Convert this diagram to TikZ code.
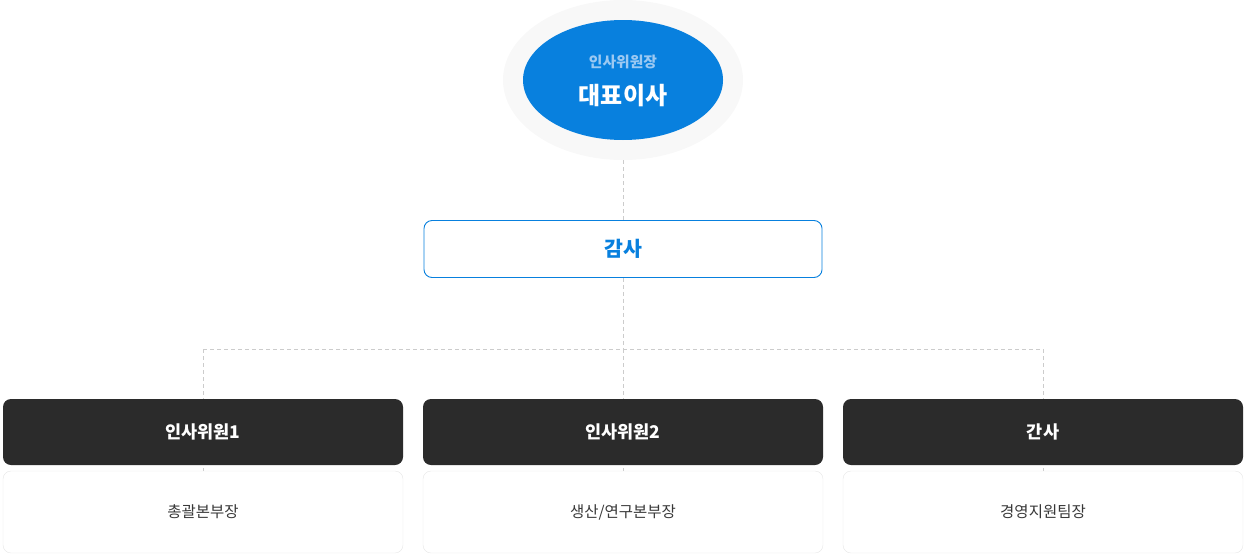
\documentclass[tikz,border=0pt]{standalone}
\usepackage{fontspec}
\setmainfont{Noto Sans CJK KR}
\usetikzlibrary{backgrounds,shapes.geometric}
\definecolor{chartblue}{HTML}{0880DE}
\definecolor{softblue}{HTML}{9CC9F2}
\definecolor{halogray}{HTML}{F8F8F8}
\definecolor{darkbox}{HTML}{2B2B2B}
\definecolor{subtext}{HTML}{383838}
\definecolor{subline}{HTML}{E6E6E6}
\definecolor{linkgray}{HTML}{CCCCCC}
\begin{document}
\begin{tikzpicture}[x=1pt,y=-1pt,
    link/.style={draw=linkgray,line width=0.8pt,dash pattern=on 4pt off 3pt},
    member/.style={fill=darkbox,rounded corners=8pt,minimum width=400pt,minimum height=66pt,
      text=white,font=\bfseries\fontsize{17.5}{17.5}\selectfont},
    duty/.style={draw=subline,fill=white,rounded corners=8pt,minimum width=400pt,minimum height=82pt,
      text=subtext,font=\fontsize{15.5}{15.5}\selectfont}]
  \useasboundingbox (0,0) rectangle (1246,557);
  \node[ellipse,fill=halogray,minimum width=240pt,minimum height=160pt,inner sep=0pt] (halo) at (623,80) {};
  \node[ellipse,fill=chartblue,minimum width=200pt,minimum height=120pt,inner sep=0pt] (ceo) at (623,80) {};
  \node[text=softblue,font=\bfseries\fontsize{14.8}{14.8}\selectfont] (ceotitle) at (623,62) {인사위원장};
  \node[text=white,font=\bfseries\fontsize{24}{24}\selectfont] (ceoname) at (623,96) {대표이사};
  \node[draw=chartblue,line width=0.9pt,fill=white,rounded corners=8pt,minimum width=398pt,minimum height=57pt,
    text=chartblue,font=\bfseries\fontsize{20.5}{20.5}\selectfont] (audit) at (623,249) {감사};
  \coordinate (split) at (623,349);
  \foreach \i/\x/\role/\duty in {1/203/인사위원1/총괄본부장, 2/623/인사위원2/{생산/연구본부장}, 3/1043/간사/경영지원팀장} {
    \node[member] (m\i) at (\x,432) {\role};
    \node[duty] (s\i) at (\x,512) {\duty};
    \coordinate (c\i) at (\x,349);
  };
  \begin{pgfonlayer}{background}
    \draw[link] (halo.south) -- (audit.north);
    \draw[link] (audit.south) -- (split);
    \draw[link] (c1) -- (c3);
    \foreach \i in {1,2,3} {
      \draw[link] (c\i) -- (s\i.north);
    };
  \end{pgfonlayer}
\end{tikzpicture}
\end{document}
